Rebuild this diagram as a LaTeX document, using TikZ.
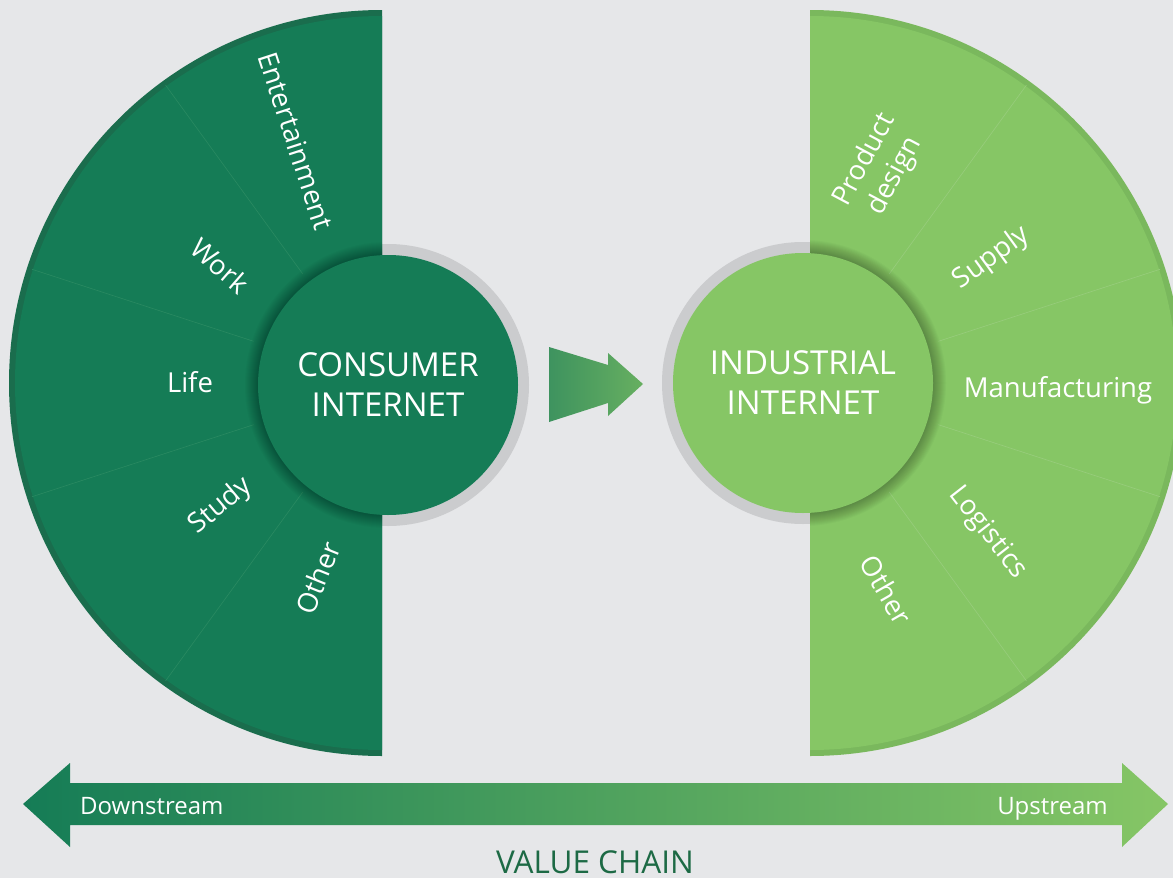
\documentclass[tikz,border=0pt]{standalone}
\usepackage{fontspec}
\setmainfont{Open Sans}
\usetikzlibrary{calc}
\definecolor{bg}{HTML}{E6E7E9}
\definecolor{dkg}{HTML}{157C56}
\definecolor{dkrim}{HTML}{1A6D4D}
\definecolor{dkline}{HTML}{2A8A62}
\definecolor{ltg}{HTML}{86C665}
\definecolor{ltrim}{HTML}{7AB85D}
\definecolor{ltline}{HTML}{98CD7D}
\definecolor{ringc}{HTML}{CBCCCE}
\definecolor{vcc}{HTML}{1D6A45}
\definecolor{marrL}{HTML}{3E935F}
\definecolor{marrR}{HTML}{67AF60}
\begin{document}
\begin{tikzpicture}[x=1pt,y=-1pt,
  seclabel/.style={text=white, font=\fontsize{27.5}{34}\selectfont, inner sep=0pt, text height=20pt, text depth=0pt},
  hub/.style={circle, minimum size=260pt, inner sep=0pt, text=white, align=center, font=\fontsize{33}{40}\selectfont},
  sepL/.style={draw=dkline, line width=0.6pt},
  sepR/.style={draw=ltline, line width=0.6pt},
  flowlabel/.style={text=white, font=\fontsize{24}{24}\selectfont, inner sep=0pt}]
\clip (0,0) rectangle (1173,878);
\fill[bg] (0,0) rectangle (1173,878);
\coordinate (cL) at (382,383);
\coordinate (cR) at (810,383);
\coordinate (iL) at (388,385);
\coordinate (iR) at (803,383);
% grey rings behind hubs
\fill[ringc] (iL) circle[radius=141];
\fill[ringc] (iR) circle[radius=141];
% left half disc
\fill[dkrim] (382,10) arc[start angle=-90,end angle=-270,radius=373] -- cycle;
\fill[dkg] (382,16) arc[start angle=-90,end angle=-270,radius=367] -- cycle;
% right half disc
\fill[ltrim] (810,10) arc[start angle=-90,end angle=90,radius=373] -- cycle;
\fill[ltg] (810,16) arc[start angle=-90,end angle=90,radius=367] -- cycle;
% separators
\foreach \a in {-126,-162,-198,-234}
  \draw[sepL] ($(cL)+(\a:135)$) -- ($(cL)+(\a:368)$);
\foreach \a in {-54,-18,18,54}
  \draw[sepR] ($(cR)+(\a:135)$) -- ($(cR)+(\a:368)$);
% shadows round the hubs
\begin{scope}
  \clip (382,10) arc[start angle=-90,end angle=-270,radius=373] -- cycle;
  \foreach \k in {1,...,14}
    \fill[black, opacity=0.022] (iL) circle[radius=129+\k];
\end{scope}
\begin{scope}
  \clip (810,10) arc[start angle=-90,end angle=90,radius=373] -- cycle;
  \foreach \k in {1,...,14}
    \fill[black, opacity=0.022] (iR) circle[radius=129+\k];
\end{scope}
% hubs
\node[hub, fill=dkg] (cons) at (iL) {CONSUMER\\INTERNET};
\node[hub, fill=ltg] (ind) at (iR) {INDUSTRIAL\\INTERNET};
% sector labels
\node[seclabel, rotate=-72] (ent) at (296,141) {Entertainment};
\node[seclabel, rotate=-41] (work) at (220,266) {Work};
\node[seclabel] (life) at (190,382) {Life};
\node[seclabel, rotate=40] (study) at (219,504) {Study};
\node[seclabel, rotate=68] (othL) at (318,578) {Other};
\node[text=white, font=\fontsize{27.5}{34}\selectfont, inner sep=0pt, align=center, rotate=62] (pd) at (880,168) {Product\\design};
\node[seclabel, rotate=36] (sup) at (990,256) {Supply};
\node[seclabel] (man) at (1058,387) {Manufacturing};
\node[seclabel, rotate=-52] (logi) at (990,531) {Logistics};
\node[seclabel, rotate=-60] (othR) at (886,590) {Other};
% middle arrow
\shade[left color=marrL, right color=marrR] (549,347) -- (608,365) -- (608,353) -- (643,384) -- (608,416) -- (608,403) -- (549,422) -- cycle;
% value chain arrow
\shade[left color=dkg, right color=ltg] (23,804) -- (70,763) -- (70,783) -- (1122,783) -- (1122,763) -- (1168,804) -- (1122,847) -- (1122,825) -- (70,825) -- (70,847) -- cycle;
\node[flowlabel, anchor=base west] (down) at (80,814) {Downstream};
\node[flowlabel, anchor=base east] (up) at (1108,814) {Upstream};
\node[text=vcc, font=\fontsize{31.5}{32}\selectfont, inner sep=0pt, text depth=0pt, anchor=base] (vchain) at (595,873) {VALUE CHAIN};
\end{tikzpicture}
\end{document}
